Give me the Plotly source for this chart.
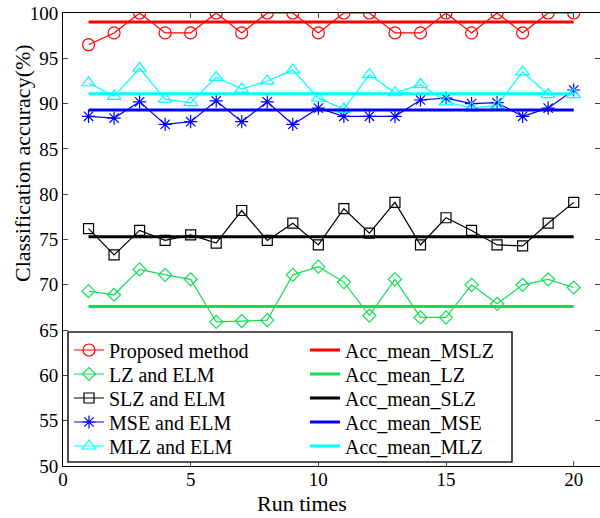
import plotly.graph_objects as go

runs = list(range(1, 21))
proposed = [96.5, 97.8, 100, 97.8, 97.8, 100, 97.8, 100, 100, 97.8,
            100, 100, 97.8, 97.8, 100, 97.8, 100, 97.8, 100, 100]
lz_elm = [69.3, 68.9, 71.7, 71.1, 70.6, 65.9, 66.0, 66.1, 71.1, 72.0,
          70.3, 66.6, 70.6, 66.4, 66.4, 70.0, 67.9, 70.0, 70.6, 69.7]
slz_elm = [76.2, 73.3, 76.0, 74.9, 75.5, 74.6, 78.2, 74.9, 76.8, 74.4,
           78.4, 75.7, 79.1, 74.4, 77.4, 76.0, 74.4, 74.3, 76.8, 79.1]
mse_elm = [88.6, 88.4, 90.2, 87.7, 88.0, 90.3, 88.0, 90.2, 87.7, 89.5,
           88.6, 88.6, 88.6, 90.4, 90.6, 90.0, 90.1, 88.6, 89.5, 91.5]
mlz_elm = [92.3, 90.8, 93.9, 90.5, 90.1, 92.9, 91.6, 92.5, 93.7, 90.6,
           89.4, 93.2, 91.2, 92.1, 90.2, 89.5, 89.8, 93.5, 91.0, 91.0]

mean_mslz = 99.0
mean_lz = 67.6
mean_slz = 75.3
mean_mse = 89.3
mean_mlz = 91.1

series_names = ["Proposed method", "LZ and ELM", "SLZ and ELM", "MSE and ELM", "MLZ and ELM"]
mean_names = ["Acc_mean_MSLZ", "Acc_mean_LZ", "Acc_mean_SLZ", "Acc_mean_MSE", "Acc_mean_MLZ"]
x_ticks = [0, 5, 10, 15, 20]
y_ticks = [50, 55, 60, 65, 70, 75, 80, 85, 90, 95, 100]
x_title = "Run times"
y_title = "Classification accuracy(%)"

colors = ["#FF0000", "#11DD55", "#000000", "#0000FF", "#00FFFF"]
symbols = ["circle-open", "diamond-open", "square-open", "asterisk-open", "triangle-up-open"]
msizes = [12, 10, 10, 11, 12]
data = [proposed, lz_elm, slz_elm, mse_elm, mlz_elm]
means = [mean_mslz, mean_lz, mean_slz, mean_mse, mean_mlz]

FONT = "Liberation Serif, Times New Roman, serif"

L, T, W, H = 63, 13, 537, 453


def px(xp):
    return (xp - L) / W


def py(yp):
    return (T + H - yp) / H


row_y = [350, 374, 398, 422, 446]
left_x, right_x = 69, 305

fig = go.Figure()
legends = {}
for i, (name, y, c, s, ms) in enumerate(zip(series_names, data, colors, symbols, msizes)):
    key = "legend" if i == 0 else f"legend{i + 1}"
    fig.add_trace(go.Scatter(
        x=runs, y=y, name=name, mode="lines+markers",
        line=dict(color=c, width=1.2),
        marker=dict(symbol=s, size=ms, color=c, line=dict(color=c, width=1.2)),
        legend=key))
    legends[key] = (left_x, row_y[i])
for i, (name, m, c) in enumerate(zip(mean_names, means, colors)):
    key = f"legend{i + 6}"
    fig.add_trace(go.Scatter(
        x=[runs[0], runs[-1]], y=[m, m], name=name, mode="lines",
        line=dict(color=c, width=3), legend=key))
    legends[key] = (right_x, row_y[i])

layout_legends = {}
for key, (lx, ly) in legends.items():
    layout_legends[key] = dict(
        x=px(lx), y=py(ly), xanchor="left", yanchor="middle",
        bgcolor="rgba(0,0,0,0)", borderwidth=0,
        font=dict(family=FONT, size=20, color="black"))

fig.update_layout(
    width=600, height=518,
    margin=dict(l=L, r=600 - L - W, t=T, b=518 - T - H),
    paper_bgcolor="white", plot_bgcolor="white",
    font=dict(family=FONT, size=19, color="black"),
    showlegend=True,
    shapes=[dict(type="rect", xref="paper", yref="paper",
                 x0=px(68), x1=px(512), y0=py(462), y1=py(332),
                 line=dict(color="#222222", width=1.6), fillcolor="white",
                 layer="above")],
    annotations=[
        dict(text=x_title, xref="paper", yref="paper", x=px(302), y=py(503),
             xanchor="center", yanchor="middle", showarrow=False,
             font=dict(family=FONT, size=22, color="black")),
        dict(text=y_title, xref="paper", yref="paper", x=px(22), y=py(163),
             xanchor="center", yanchor="middle", showarrow=False, textangle=-90,
             font=dict(family=FONT, size=22, color="black")),
    ],
    **layout_legends,
)
fig.update_xaxes(
    range=[0, 21.03], tickvals=x_ticks, ticks="inside", ticklen=5,
    showline=True, linecolor="black", linewidth=1, mirror="allticks",
    showgrid=False, zeroline=False, tickfont=dict(size=19),
    ticklabelstandoff=-4,
)
fig.update_yaxes(
    range=[50, 100], tickvals=y_ticks, ticks="inside", ticklen=5,
    showline=True, linecolor="black", linewidth=1, mirror="allticks",
    showgrid=False, zeroline=False, tickfont=dict(size=19),
)

fig.write_html("out.html")
